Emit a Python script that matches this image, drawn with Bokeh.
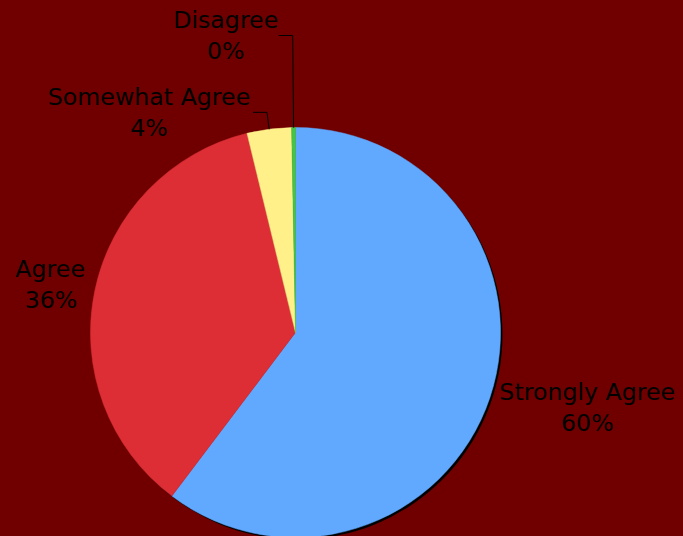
import math
from bokeh.plotting import figure
from bokeh.models import ColumnDataSource
from bokeh.core.properties import value
from bokeh.embed import file_html
from bokeh.resources import INLINE

# ---- data ----
categories = ["Strongly Agree", "Agree", "Somewhat Agree", "Disagree"]
shares = [60.3, 35.9, 3.5, 0.3]
pct_labels = ["60%", "36%", "4%", "0%"]
colors = ["#61a9ff", "#dd2e35", "#fff08a", "#45c445"]

# ---- layout ----
W, H = 683, 536
BG = "#700000"
CX, CY = 295, H - 332
R = 205
FONT = value("DejaVu Sans")
FS = "23.7px"
LINE_GAP = 15.5

p = figure(width=W, height=H, x_range=(0, W), y_range=(0, H),
           output_backend="svg", toolbar_location=None,
           x_axis_location=None, y_axis_location=None, min_border=0)
p.grid.visible = False
p.outline_line_color = None
p.background_fill_color = BG
p.border_fill_color = BG

total = sum(shares)
starts, ends, mids = [], [], []
cum = 0.0
for s in shares:
    a0 = math.pi / 2 - 2 * math.pi * cum / total
    cum += s
    a1 = math.pi / 2 - 2 * math.pi * cum / total
    starts.append(a0)
    ends.append(a1)
    mids.append((a0 + a1) / 2)

# shadow
p.circle(x=[CX + 2], y=[CY - 2], radius=R, fill_color="black", line_color=None)

src = ColumnDataSource(dict(start=starts, end=ends, color=colors))
p.wedge(x=CX, y=CY, radius=R, start_angle="start", end_angle="end",
        direction="clock", fill_color="color", line_color="color",
        line_width=0.5, source=src)


def txt(x, y, s, align):
    p.text(x=[x], y=[y], text=[s], text_align=align,
           text_baseline="middle", text_font=FONT, text_font_size=FS,
           text_color="black")


for i, (name, pct, a) in enumerate(zip(categories, pct_labels, mids)):
    ux, uy = math.cos(a), math.sin(a)
    frac = shares[i] / total
    if frac > 0.1:
        ax = CX + (R + 10) * ux
        ay = CY + (R + 10) * uy
        bc = ay + uy * 22 if uy < 0 else ay + uy * 20
        if ux > 0:
            txt(ax, bc + LINE_GAP, name, "left")
            txt(ax + 88, bc - LINE_GAP, pct, "center")
        else:
            txt(ax, bc + LINE_GAP, name, "right")
            txt(ax - 34, bc - LINE_GAP, pct, "center")
    else:
        ext = 92 if frac < 0.01 else 17
        x0, y0 = CX + R * ux, CY + R * uy
        x1, y1 = CX + (R + ext) * ux, CY + (R + ext) * uy
        x2 = x1 - 14
        p.line(x=[x0, x1, x2], y=[y0, y1, y1], line_color="black", line_width=1)
        half = 53 if frac < 0.01 else 104
        txt(x2 - half, y1 + LINE_GAP, name, "center")
        txt(x2 - half, y1 - LINE_GAP, pct, "center")

html = file_html(p, INLINE)
html = html.replace("<head>", "<head><style>html,body{background:#700000;margin:0;}</style>", 1)
open("out.html", "w").write(html)
